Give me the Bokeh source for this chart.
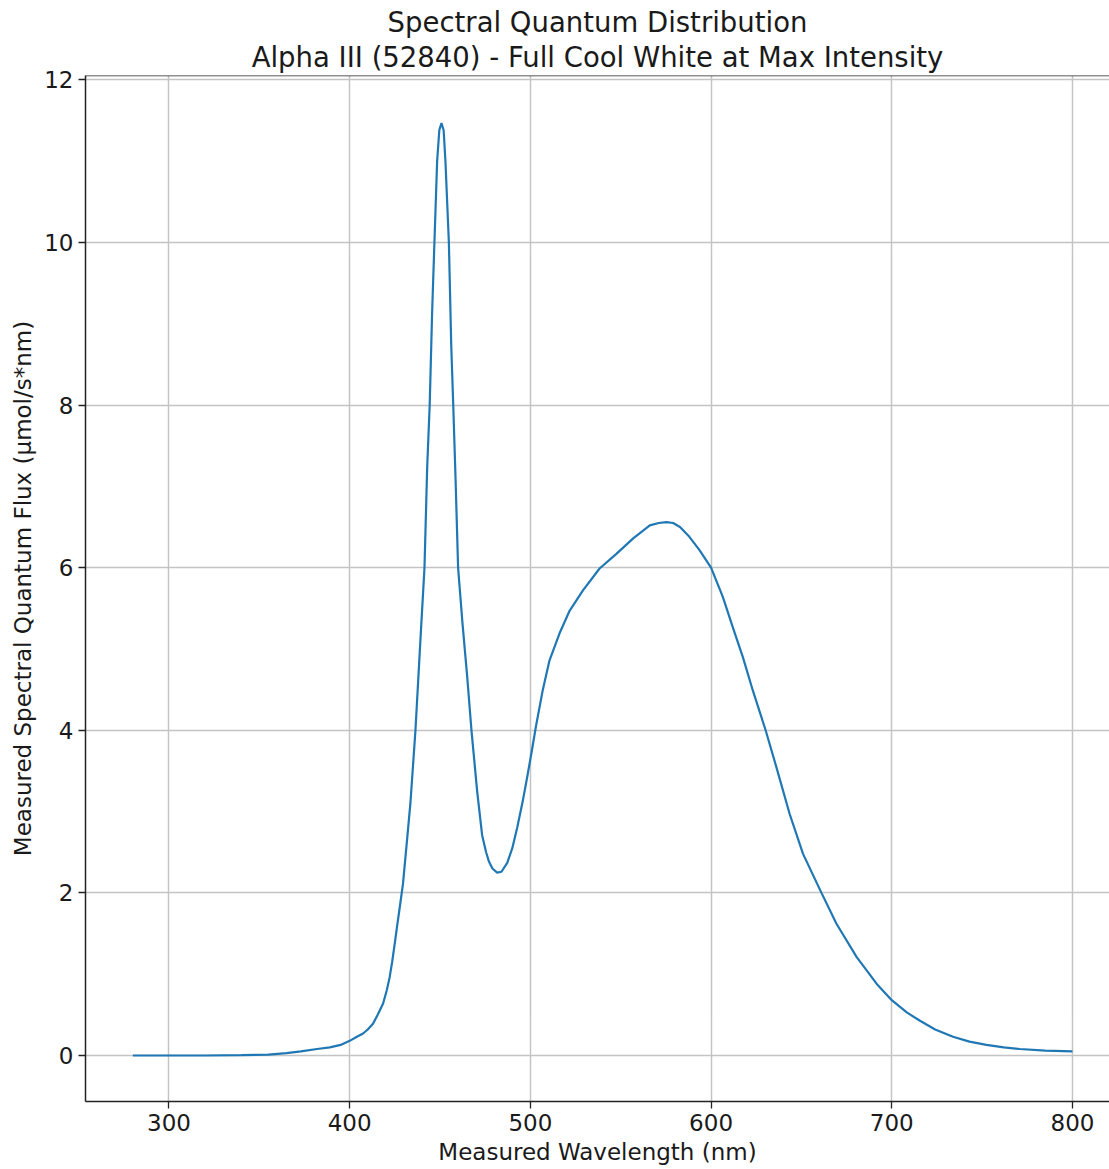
from bokeh.plotting import figure
from bokeh.models import Range1d, Span, Title, FixedTicker
from bokeh.embed import file_html
from bokeh.resources import INLINE

title_line1 = "Spectral Quantum Distribution"
title_line2 = "Alpha III (52840) - Full Cool White at Max Intensity"
x_label = "Measured Wavelength (nm)"
y_label = "Measured Spectral Quantum Flux (µmol/s*nm)"

x_ticks = [300, 400, 500, 600, 700, 800]
y_ticks = [0, 2, 4, 6, 8, 10, 12]

wavelength = [280, 300, 320, 340, 355, 365, 373, 382, 389, 395, 400, 404, 407.4, 410, 412.9,
              415.5, 418.5, 420.5, 422.1, 423.5, 424.9, 426.3, 427.7, 429.5, 431.7, 433.6,
              436.4, 439.2, 441.4, 442.9, 444.3, 445.6, 446.9,
              448.4, 449.6, 450.8, 452, 453, 454.9, 456.2, 457.3, 458.6, 460, 462.3, 465,
              467.4, 470.6, 473.3, 475.5, 477, 479, 481.6, 484, 487.2, 490, 492.7, 495.7,
              498.2, 500.6, 503.1, 506.9, 510.6, 516.1, 521.7, 529.1, 538.3, 547.6, 556.9,
              566.1, 571, 575.4, 579, 582.8, 588, 593.5, 600, 606.5, 612, 617.6, 623.1, 630.2,
              636.1, 643.5, 650.9, 661.1, 669.4, 680.6, 691.7, 700, 708.3, 715.4, 724,
              733.9, 743, 752.4, 762, 770.8, 785, 800]
flux = [0.0, 0.0, 0.0, 0.005, 0.01, 0.03, 0.05, 0.08, 0.1, 0.13, 0.18, 0.23, 0.27, 0.32, 0.39,
        0.5, 0.64, 0.8, 0.96, 1.15, 1.37, 1.6, 1.82, 2.11, 2.64, 3.1,
        4.0, 5.13, 6.0, 7.24, 8.01, 9.12, 10.0,
        11.0, 11.38, 11.47, 11.38, 11.0, 10.0, 8.74, 8.01, 7.09, 6.0, 5.35, 4.67,
        4.0, 3.24, 2.71, 2.5, 2.39, 2.3, 2.25, 2.26, 2.37, 2.55, 2.8, 3.12,
        3.42, 3.72, 4.05, 4.5, 4.86, 5.19, 5.47, 5.72, 5.99, 6.17, 6.36,
        6.52, 6.55, 6.56, 6.55, 6.5, 6.38, 6.22, 6.0, 5.64, 5.27, 4.9, 4.49, 4.0,
        3.55, 2.97, 2.48, 2.0, 1.62, 1.21, 0.88, 0.68, 0.53, 0.43, 0.32,
        0.23, 0.17, 0.13, 0.1, 0.08, 0.06, 0.05]

FONT = "DejaVu Sans"

p = figure(width=1109, height=1169, output_backend="svg", toolbar_location=None,
           x_range=Range1d(253.8, 820.5), y_range=Range1d(-0.566, 12.054),
           min_border_left=85, min_border_right=0, min_border_top=75, min_border_bottom=68,
           title=title_line1)
p.title.text_font = FONT
p.title.text_font_size = "27.5px"
p.title.text_font_style = "normal"
p.title.align = "center"
p.title.text_color = "#1a1a1a"
p.title.standoff = -5
p.title.offset = 5
p.add_layout(Title(text=title_line2, text_font=FONT, text_font_size="27.5px",
                   text_font_style="normal", align="center", text_color="#1a1a1a",
                   standoff=6, offset=5), "above")

p.line(wavelength, flux, line_color="#1f77b4", line_width=2.2)

p.outline_line_color = None
p.add_layout(Span(location=12.054, dimension="width", line_color="#222222", line_width=1.5))
p.background_fill_color = "white"
p.border_fill_color = "white"

for ax in (p.xaxis[0], p.yaxis[0]):
    ax.axis_line_color = "#222222"
    ax.axis_line_width = 1.5
    ax.major_tick_line_color = "#222222"
    ax.major_tick_line_width = 1.3
    ax.major_tick_out = 7
    ax.major_tick_in = 0
    ax.minor_tick_line_color = None
    ax.major_label_text_font = FONT
    ax.major_label_text_font_size = "23px"
    ax.major_label_text_color = "#1a1a1a"
    ax.axis_label_text_font = FONT
    ax.axis_label_text_font_size = "23px"
    ax.axis_label_text_font_style = "normal"
    ax.axis_label_text_color = "#1a1a1a"
    ax.major_label_standoff = 5
    ax.axis_label_standoff = 5

p.xaxis[0].ticker = FixedTicker(ticks=x_ticks)
p.yaxis[0].ticker = FixedTicker(ticks=y_ticks)
p.xaxis[0].axis_label = x_label
p.yaxis[0].axis_label = y_label

p.xgrid.grid_line_color = "#c4c4c4"
p.ygrid.grid_line_color = "#c4c4c4"
p.xgrid.grid_line_width = 1.5
p.ygrid.grid_line_width = 1.5

open("out.html", "w").write(file_html(p, INLINE))
